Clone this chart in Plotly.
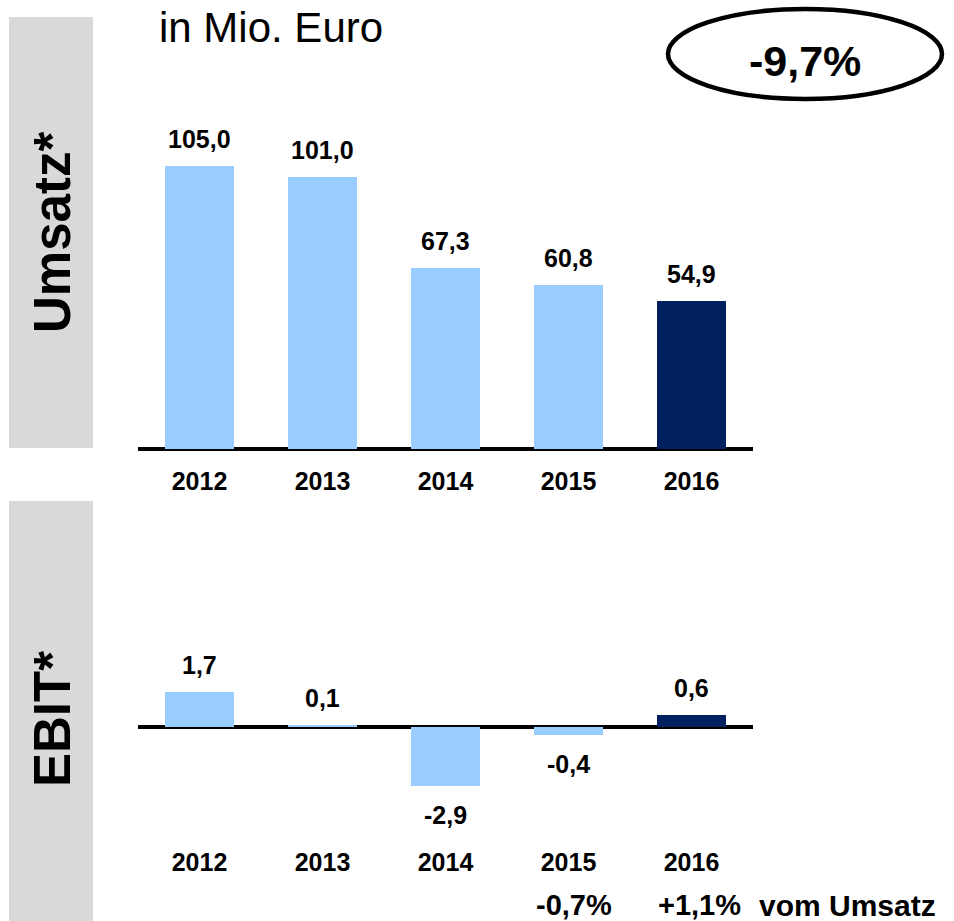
import plotly.graph_objects as go

years = ["2012", "2013", "2014", "2015", "2016"]
umsatz = [105.0, 101.0, 67.3, 60.8, 54.9]
ebit = [1.7, 0.1, -2.9, -0.4, 0.6]
umsatz_labels = ["105,0", "101,0", "67,3", "60,8", "54,9"]
ebit_labels = ["1,7", "0,1", "-2,9", "-0,4", "0,6"]
pct_years = ["2015", "2016"]
pct_labels = ["-0,7%", "+1,1%"]
change_label = "-9,7%"

LIGHT = "#99CCFF"
DARK = "#002060"
GREY = "#D9D9D9"
FONT = "Arial, Liberation Sans, sans-serif"

W, H = 954, 921
def py(p):
    return 1 - p / H
def px(p):
    return p / W

colors = [LIGHT] * 4 + [DARK]
EB = 20.5  # px per unit in EBIT panel

fig = go.Figure()
fig.add_trace(go.Bar(x=years, y=umsatz, marker=dict(color=colors, line=dict(width=0)),
                     width=0.56, xaxis="x", yaxis="y", hoverinfo="skip"))
fig.add_trace(go.Bar(x=years, y=ebit, marker=dict(color=colors, line=dict(width=0)),
                     width=0.56, xaxis="x2", yaxis="y2", hoverinfo="skip"))

vfont = dict(size=25, family=FONT, color="black", weight="bold")
ann = []
for i, (v, t) in enumerate(zip(umsatz, umsatz_labels)):
    ann.append(dict(x=i, y=v, xref="x", yref="y", text=t, showarrow=False,
                    yanchor="bottom", yshift=11, font=vfont))
for i, (v, t) in enumerate(zip(ebit, ebit_labels)):
    ann.append(dict(x=i, y=v, xref="x2", yref="y2", text=t, showarrow=False,
                    yanchor="bottom" if v >= 0 else "top", yshift=11 if v >= 0 else -13,
                    font=vfont))
pfont = dict(size=29, family=FONT, color="black", weight="bold")
for yr, t, sh in zip(pct_years, pct_labels, [5, 8]):
    ann.append(dict(x=years.index(yr), y=py(905), xref="x2", yref="paper", text=t, showarrow=False,
                    yanchor="middle", xshift=sh, font=pfont))
ann.append(dict(x=px(757), y=py(905), xref="paper", yref="paper", text="vom Umsatz", showarrow=False,
                xanchor="left", yanchor="middle", font=dict(size=30, family=FONT, color="black", weight="bold")))
ann.append(dict(x=px(157), y=py(27), xref="paper", yref="paper", text="in Mio. Euro", showarrow=False,
                xanchor="left", yanchor="middle", font=dict(size=42, family=FONT, color="black")))
ann.append(dict(x=px(805), y=py(61), xref="paper", yref="paper", text=change_label, showarrow=False,
                xanchor="center", yanchor="middle", font=dict(size=43, family=FONT, color="black", weight="bold")))
ann.append(dict(x=px(52), y=py(233), xref="paper", yref="paper", text="Umsatz*", showarrow=False,
                textangle=-90, xanchor="center", yanchor="middle", font=dict(size=51, family=FONT, color="black", weight="bold")))
ann.append(dict(x=px(52), y=py(719), xref="paper", yref="paper", text="EBIT*", showarrow=False,
                textangle=-90, xanchor="center", yanchor="middle", font=dict(size=51, family=FONT, color="black", weight="bold")))

shapes = [
    dict(type="rect", xref="paper", yref="paper", x0=px(9), x1=px(93), y0=py(448), y1=py(17),
         fillcolor=GREY, line=dict(width=0), layer="below"),
    dict(type="rect", xref="paper", yref="paper", x0=px(9), x1=px(93), y0=py(921), y1=py(501),
         fillcolor=GREY, line=dict(width=0), layer="below"),
    dict(type="circle", xref="paper", yref="paper", x0=px(668), x1=px(942), y0=py(99), y1=py(9),
         line=dict(color="black", width=4.5), fillcolor="rgba(0,0,0,0)"),
]

tickfont = dict(size=25, family=FONT, color="black", weight="bold")
fig.update_layout(
    width=W, height=H, margin=dict(l=0, r=0, t=0, b=0, autoexpand=False),
    paper_bgcolor="white", plot_bgcolor="rgba(0,0,0,0)",
    showlegend=False, bargap=0,
    annotations=ann, shapes=shapes,
    xaxis=dict(domain=[px(138), px(753)], anchor="y", type="category", showgrid=False,
               range=[-0.5, 4.5], automargin=False,
               showline=False, ticks="", tickfont=tickfont, ticklabelstandoff=15),
    yaxis=dict(domain=[py(449), py(130)], range=[0, (449 - 130) / 2.695], automargin=False,
               showgrid=False, showticklabels=False, ticks="", zeroline=True,
               zerolinecolor="black", zerolinewidth=4),
    xaxis2=dict(domain=[px(138), px(753)], anchor="y2", type="category", showgrid=False,
                range=[-0.5, 4.5], automargin=False,
                showline=False, ticks="", tickfont=tickfont, ticklabelstandoff=45),
    yaxis2=dict(domain=[py(800), py(640)], range=[-(800 - 727) / EB, (727 - 640) / EB],
                automargin=False,
                showgrid=False, showticklabels=False, ticks="", zeroline=True,
                zerolinecolor="black", zerolinewidth=4),
)

fig.write_html("out.html", config={"displayModeBar": False},
               post_script="document.body.style.margin='0';")
